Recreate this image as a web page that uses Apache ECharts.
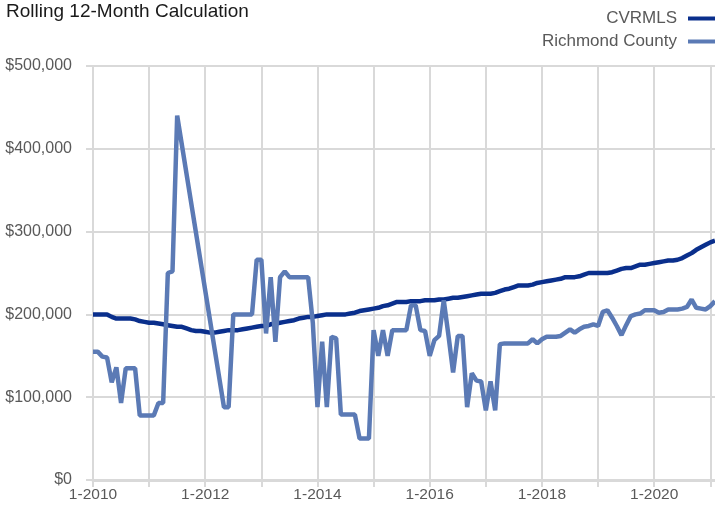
<!DOCTYPE html>
<html>
<head>
<meta charset="utf-8">
<script src="https://cdn.jsdelivr.net/npm/echarts@6/dist/echarts.min.js"></script>
<style>
  html, body { margin: 0; padding: 0; background: #fff; }
  #chart { width: 715px; height: 515px; }
</style>
</head>
<body>
<div id="chart"></div>
<script>
// month labels, 1-2010 .. 2-2021
const months = [];
for (let y = 2010; y <= 2021; y++) {
  for (let m = 1; m <= 12; m++) {
    if (y === 2021 && m > 2) break;
    months.push(m + "-" + y);
  }
}

// rolling 12-month median sales price, one row per year
const cvrmls = [
  200000, 200000, 200000, 200000, 197000, 195000, 195000, 195000, 195000, 194000, 192000, 191000,
  190000, 190000, 189000, 188000, 187000, 186000, 185000, 185000, 183000, 181000, 180000, 180000,
  179000, 178000, 178000, 179000, 180000, 181000, 181000, 181000, 182000, 183000, 184000, 185000,
  186000, 186000, 188000, 189000, 190000, 191000, 192000, 193000, 195000, 196000, 197000, 197000,
  198000, 199000, 200000, 200000, 200000, 200000, 200000, 201000, 202000, 204000, 205000, 206000,
  207000, 208000, 210000, 211000, 213000, 215000, 215000, 215000, 216000, 216000, 216000, 217000,
  217000, 217000, 218000, 218000, 219000, 220000, 220000, 221000, 222000, 223000, 224000, 225000,
  225000, 225000, 226000, 228000, 230000, 231000, 233000, 235000, 235000, 235000, 236000, 238000,
  239000, 240000, 241000, 242000, 243000, 245000, 245000, 245000, 246000, 248000, 250000, 250000,
  250000, 250000, 250000, 251000, 253000, 255000, 256000, 256000, 258000, 260000, 260000, 261000,
  262000, 263000, 264000, 265000, 265000, 266000, 268000, 271000, 274000, 278000, 281000, 284000,
  287000, 289000
];

// gap in 2011-2012 is joined straight across, as in the original
const richmond = [
  155000, 155000, 149000, 148000, 118000, 136000, 93000, 135000, 135000, 135000, 78000, 78000,
  78000, 78000, 93000, 93000, 250000, 252000, 440000, null, null, null, null, null,
  null, null, null, null, 88000, 88000, 200000, 200000, 200000, 200000, 200000, 266000,
  266000, 177000, 245000, 167000, 245000, 252000, 245000, 245000, 245000, 245000, 245000, 190000,
  88000, 167000, 88000, 173000, 171000, 79000, 79000, 79000, 79000, 50000, 50000, 50000,
  181000, 150000, 181000, 150000, 181000, 181000, 181000, 181000, 211000, 211000, 181000, 180000,
  150000, 169000, 174000, 217000, 175000, 130000, 174000, 174000, 88000, 129000, 120000, 119000,
  84000, 119000, 84000, 164000, 165000, 165000, 165000, 165000, 165000, 165000, 170000, 165000,
  170000, 173000, 173000, 173000, 174000, 178000, 182000, 178000, 182000, 185000, 186000, 188000,
  186000, 203000, 205000, 196000, 186000, 175000, 187000, 198000, 200000, 201000, 205000, 205000,
  205000, 202000, 203000, 206000, 206000, 206000, 207000, 209000, 218000, 208000, 207000, 206000,
  210000, 216000
];

const yTicks = [0, 100000, 200000, 300000, 400000, 500000];

const font = "'Liberation Sans', Arial, sans-serif";
const gridColor = "#d9d9d9";
const textColor = "#595959";

const myChart = echarts.init(document.getElementById("chart"));

const option = {
  animation: false,
  title: {
    text: "Rolling 12-Month Calculation",
    left: 6,
    top: 2,
    padding: 0,
    textStyle: { fontFamily: font, fontSize: 19, fontWeight: "normal", color: "#1a1a1a" }
  },
  legend: {
    data: ["CVRMLS", "Richmond County"],
    orient: "vertical",
    right: 0,
    top: 10,
    padding: 0,
    align: "right",
    icon: "rect",
    itemWidth: 27,
    itemHeight: 4,
    itemGap: 6,
    textStyle: { fontFamily: font, fontSize: 17, color: textColor, padding: [0, 6, 0, 0] }
  },
  grid: { left: 93, right: 0, top: 66, bottom: 35, outerBoundsMode: "none" },
  xAxis: {
    type: "category",
    data: months,
    boundaryGap: false,
    axisLine: { show: true, lineStyle: { color: gridColor, width: 3 } },
    axisTick: { show: true, interval: 11, length: 7, lineStyle: { color: gridColor, width: 2 } },
    axisLabel: { interval: 23, color: textColor, fontFamily: font, fontSize: 15.5, margin: 7 },
    splitLine: { show: true, interval: 11, lineStyle: { color: gridColor, width: 2 } }
  },
  yAxis: {
    type: "value",
    min: yTicks[0],
    max: yTicks[yTicks.length - 1],
    interval: yTicks[1] - yTicks[0],
    axisLine: { show: false },
    axisTick: { show: true, length: 7, lineStyle: { color: gridColor, width: 2 } },
    axisLabel: {
      color: textColor,
      fontFamily: font,
      fontSize: 16,
      margin: 21,
      formatter: v => "$" + v.toLocaleString("en-US")
    },
    splitLine: { show: true, lineStyle: { color: gridColor, width: 2 } }
  },
  series: [
    {
      name: "CVRMLS",
      type: "line",
      data: cvrmls,
      showSymbol: false,
      lineStyle: { color: "#0a2f8c", width: 4.5 },
      itemStyle: { color: "#0a2f8c" }
    },
    {
      name: "Richmond County",
      type: "line",
      data: richmond,
      connectNulls: true,
      showSymbol: false,
      lineStyle: { color: "#5b7ab5", width: 4.5 },
      itemStyle: { color: "#5b7ab5" }
    }
  ]
};

option && myChart.setOption(option);
</script>
</body>
</html>
